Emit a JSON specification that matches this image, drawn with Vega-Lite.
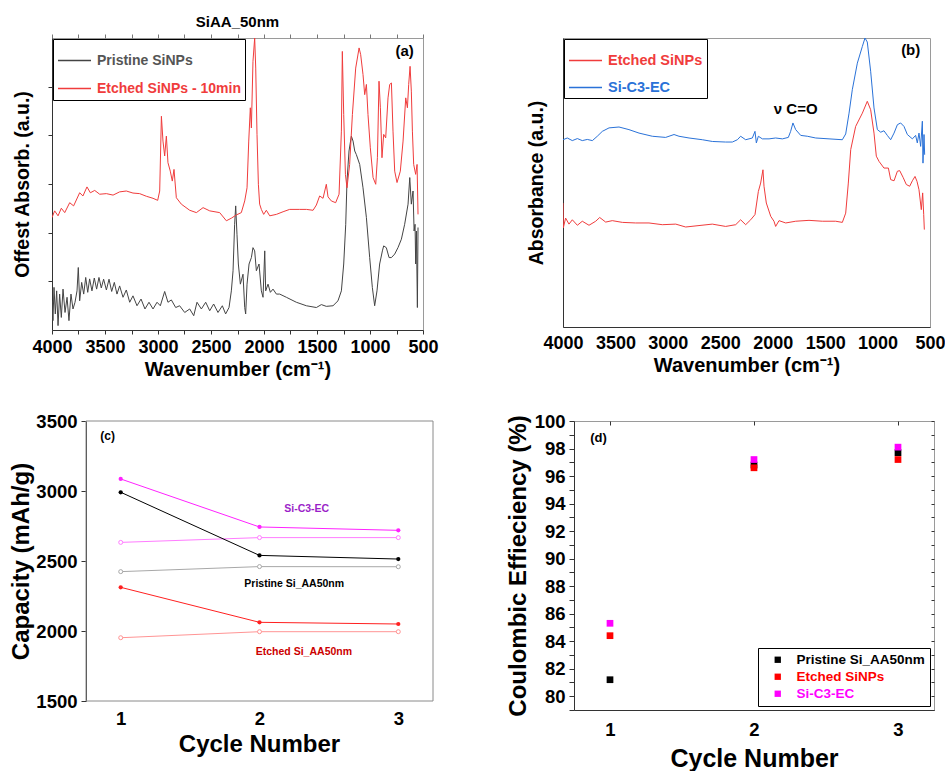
{
  "$schema": "https://vega.github.io/schema/vega-lite/v6.json",
  "background": "white",
  "padding": {"left": 9, "top": 14, "right": 0, "bottom": 0},
  "resolve": {"scale": {"color": "independent"}, "legend": {"color": "independent"}},
  "config": {
    "font": "Liberation Sans",
    "view": {"stroke": "#9a9a9a"},
    "title": {"font": "Liberation Sans", "fontWeight": "bold"},
    "axis": {"grid": false, "labelFont": "Liberation Sans", "titleFont": "Liberation Sans", "labelFontWeight": "bold", "titleFontWeight": "bold", "labelColor": "#000", "titleColor": "#000", "domainColor": "#333", "tickColor": "#333", "labelFlush": false, "labelOverlap": false},
    "legend": {"labelFont": "Liberation Sans", "labelFontWeight": "bold"},
    "text": {"font": "Liberation Sans", "fontWeight": "bold"}
  },
  "datasets": {
    "specA": [
      {"series":"Pristine SiNPs","wn":4000,"abs":10.0},{"series":"Pristine SiNPs","wn":3991,"abs":3.2},{"series":"Pristine SiNPs","wn":3981,"abs":14.6},{"series":"Pristine SiNPs","wn":3969,"abs":5.5},{"series":"Pristine SiNPs","wn":3956,"abs":13.4},{"series":"Pristine SiNPs","wn":3943,"abs":1.5},{"series":"Pristine SiNPs","wn":3928,"abs":12.3},{"series":"Pristine SiNPs","wn":3912,"abs":4.3},{"series":"Pristine SiNPs","wn":3896,"abs":14.0},{"series":"Pristine SiNPs","wn":3877,"abs":6.0},{"series":"Pristine SiNPs","wn":3858,"abs":11.2},{"series":"Pristine SiNPs","wn":3840,"abs":3.2},{"series":"Pristine SiNPs","wn":3821,"abs":12.3},{"series":"Pristine SiNPs","wn":3802,"abs":7.2},{"series":"Pristine SiNPs","wn":3783,"abs":9.5},{"series":"Pristine SiNPs","wn":3764,"abs":13.4},{"series":"Pristine SiNPs","wn":3752,"abs":21.4},{"series":"Pristine SiNPs","wn":3739,"abs":10.0},{"series":"Pristine SiNPs","wn":3720,"abs":16.3},{"series":"Pristine SiNPs","wn":3701,"abs":12.3},{"series":"Pristine SiNPs","wn":3682,"abs":18.0},{"series":"Pristine SiNPs","wn":3663,"abs":12.9},{"series":"Pristine SiNPs","wn":3645,"abs":17.5},{"series":"Pristine SiNPs","wn":3623,"abs":13.4},{"series":"Pristine SiNPs","wn":3601,"abs":17.8},{"series":"Pristine SiNPs","wn":3579,"abs":14.0},{"series":"Pristine SiNPs","wn":3557,"abs":18.0},{"series":"Pristine SiNPs","wn":3535,"abs":14.4},{"series":"Pristine SiNPs","wn":3513,"abs":17.4},{"series":"Pristine SiNPs","wn":3487,"abs":13.7},{"series":"Pristine SiNPs","wn":3462,"abs":17.4},{"series":"Pristine SiNPs","wn":3437,"abs":13.2},{"series":"Pristine SiNPs","wn":3412,"abs":16.3},{"series":"Pristine SiNPs","wn":3387,"abs":12.3},{"series":"Pristine SiNPs","wn":3362,"abs":15.1},{"series":"Pristine SiNPs","wn":3330,"abs":11.2},{"series":"Pristine SiNPs","wn":3299,"abs":13.7},{"series":"Pristine SiNPs","wn":3267,"abs":9.5},{"series":"Pristine SiNPs","wn":3236,"abs":11.7},{"series":"Pristine SiNPs","wn":3198,"abs":8.3},{"series":"Pristine SiNPs","wn":3160,"abs":10.6},{"series":"Pristine SiNPs","wn":3123,"abs":7.2},{"series":"Pristine SiNPs","wn":3085,"abs":9.5},{"series":"Pristine SiNPs","wn":3047,"abs":7.2},{"series":"Pristine SiNPs","wn":3009,"abs":9.5},{"series":"Pristine SiNPs","wn":2978,"abs":8.3},{"series":"Pristine SiNPs","wn":2937,"abs":13.2},{"series":"Pristine SiNPs","wn":2906,"abs":9.5},{"series":"Pristine SiNPs","wn":2874,"abs":10.3},{"series":"Pristine SiNPs","wn":2833,"abs":7.7},{"series":"Pristine SiNPs","wn":2796,"abs":8.3},{"series":"Pristine SiNPs","wn":2748,"abs":6.0},{"series":"Pristine SiNPs","wn":2701,"abs":7.2},{"series":"Pristine SiNPs","wn":2663,"abs":4.9},{"series":"Pristine SiNPs","wn":2632,"abs":9.5},{"series":"Pristine SiNPs","wn":2591,"abs":7.2},{"series":"Pristine SiNPs","wn":2550,"abs":9.5},{"series":"Pristine SiNPs","wn":2512,"abs":6.6},{"series":"Pristine SiNPs","wn":2475,"abs":8.9},{"series":"Pristine SiNPs","wn":2434,"abs":6.0},{"series":"Pristine SiNPs","wn":2393,"abs":8.3},{"series":"Pristine SiNPs","wn":2362,"abs":5.5},{"series":"Pristine SiNPs","wn":2330,"abs":7.7},{"series":"Pristine SiNPs","wn":2308,"abs":13.4},{"series":"Pristine SiNPs","wn":2292,"abs":20.3},{"series":"Pristine SiNPs","wn":2277,"abs":36.2},{"series":"Pristine SiNPs","wn":2267,"abs":42.5},{"series":"Pristine SiNPs","wn":2255,"abs":32.8},{"series":"Pristine SiNPs","wn":2242,"abs":22.6},{"series":"Pristine SiNPs","wn":2223,"abs":15.7},{"series":"Pristine SiNPs","wn":2198,"abs":19.1},{"series":"Pristine SiNPs","wn":2182,"abs":7.7},{"series":"Pristine SiNPs","wn":2173,"abs":5.5},{"series":"Pristine SiNPs","wn":2160,"abs":15.7},{"series":"Pristine SiNPs","wn":2141,"abs":22.6},{"series":"Pristine SiNPs","wn":2119,"abs":24.8},{"series":"Pristine SiNPs","wn":2104,"abs":28.2},{"series":"Pristine SiNPs","wn":2088,"abs":27.1},{"series":"Pristine SiNPs","wn":2072,"abs":20.3},{"series":"Pristine SiNPs","wn":2047,"abs":22.6},{"series":"Pristine SiNPs","wn":2025,"abs":13.4},{"series":"Pristine SiNPs","wn":2009,"abs":11.2},{"series":"Pristine SiNPs","wn":1993,"abs":27.1},{"series":"Pristine SiNPs","wn":1984,"abs":13.4},{"series":"Pristine SiNPs","wn":1962,"abs":15.7},{"series":"Pristine SiNPs","wn":1940,"abs":12.9},{"series":"Pristine SiNPs","wn":1915,"abs":14.0},{"series":"Pristine SiNPs","wn":1883,"abs":12.3},{"series":"Pristine SiNPs","wn":1852,"abs":12.3},{"series":"Pristine SiNPs","wn":1789,"abs":11.2},{"series":"Pristine SiNPs","wn":1695,"abs":9.5},{"series":"Pristine SiNPs","wn":1600,"abs":8.3},{"series":"Pristine SiNPs","wn":1506,"abs":7.7},{"series":"Pristine SiNPs","wn":1459,"abs":8.7},{"series":"Pristine SiNPs","wn":1412,"abs":8.1},{"series":"Pristine SiNPs","wn":1349,"abs":8.3},{"series":"Pristine SiNPs","wn":1302,"abs":10.0},{"series":"Pristine SiNPs","wn":1270,"abs":13.4},{"series":"Pristine SiNPs","wn":1248,"abs":22.6},{"series":"Pristine SiNPs","wn":1229,"abs":36.2},{"series":"Pristine SiNPs","wn":1217,"abs":51.0},{"series":"Pristine SiNPs","wn":1198,"abs":61.3},{"series":"Pristine SiNPs","wn":1176,"abs":66.4},{"series":"Pristine SiNPs","wn":1160,"abs":64.7},{"series":"Pristine SiNPs","wn":1144,"abs":61.3},{"series":"Pristine SiNPs","wn":1129,"abs":60.1},{"series":"Pristine SiNPs","wn":1097,"abs":56.7},{"series":"Pristine SiNPs","wn":1066,"abs":48.7},{"series":"Pristine SiNPs","wn":1034,"abs":38.5},{"series":"Pristine SiNPs","wn":1003,"abs":24.8},{"series":"Pristine SiNPs","wn":978,"abs":14.6},{"series":"Pristine SiNPs","wn":956,"abs":8.3},{"series":"Pristine SiNPs","wn":934,"abs":13.4},{"series":"Pristine SiNPs","wn":909,"abs":22.6},{"series":"Pristine SiNPs","wn":883,"abs":27.1},{"series":"Pristine SiNPs","wn":871,"abs":28.8},{"series":"Pristine SiNPs","wn":846,"abs":28.2},{"series":"Pristine SiNPs","wn":820,"abs":24.8},{"series":"Pristine SiNPs","wn":798,"abs":24.8},{"series":"Pristine SiNPs","wn":767,"abs":26.0},{"series":"Pristine SiNPs","wn":736,"abs":28.2},{"series":"Pristine SiNPs","wn":704,"abs":31.1},{"series":"Pristine SiNPs","wn":673,"abs":36.2},{"series":"Pristine SiNPs","wn":641,"abs":43.1},{"series":"Pristine SiNPs","wn":625,"abs":52.2},{"series":"Pristine SiNPs","wn":610,"abs":43.1},{"series":"Pristine SiNPs","wn":594,"abs":47.6},{"series":"Pristine SiNPs","wn":584,"abs":33.9},{"series":"Pristine SiNPs","wn":575,"abs":36.2},{"series":"Pristine SiNPs","wn":569,"abs":22.6},{"series":"Pristine SiNPs","wn":562,"abs":33.9},{"series":"Pristine SiNPs","wn":553,"abs":7.7},{"series":"Pristine SiNPs","wn":547,"abs":35.1},
      {"series":"Etched SiNPs - 10min","wn":4000,"abs":38.5},{"series":"Etched SiNPs - 10min","wn":3975,"abs":40.8},{"series":"Etched SiNPs - 10min","wn":3943,"abs":39.1},{"series":"Etched SiNPs - 10min","wn":3912,"abs":41.7},{"series":"Etched SiNPs - 10min","wn":3880,"abs":40.2},{"series":"Etched SiNPs - 10min","wn":3833,"abs":43.6},{"series":"Etched SiNPs - 10min","wn":3796,"abs":42.5},{"series":"Etched SiNPs - 10min","wn":3739,"abs":47.0},{"series":"Etched SiNPs - 10min","wn":3708,"abs":45.9},{"series":"Etched SiNPs - 10min","wn":3670,"abs":49.0},{"series":"Etched SiNPs - 10min","wn":3638,"abs":47.0},{"series":"Etched SiNPs - 10min","wn":3597,"abs":47.8},{"series":"Etched SiNPs - 10min","wn":3550,"abs":46.5},{"series":"Etched SiNPs - 10min","wn":3487,"abs":46.7},{"series":"Etched SiNPs - 10min","wn":3424,"abs":46.2},{"series":"Etched SiNPs - 10min","wn":3362,"abs":47.3},{"series":"Etched SiNPs - 10min","wn":3299,"abs":47.6},{"series":"Etched SiNPs - 10min","wn":3236,"abs":46.9},{"series":"Etched SiNPs - 10min","wn":3173,"abs":46.7},{"series":"Etched SiNPs - 10min","wn":3110,"abs":45.8},{"series":"Etched SiNPs - 10min","wn":3047,"abs":45.1},{"series":"Etched SiNPs - 10min","wn":3003,"abs":44.4},{"series":"Etched SiNPs - 10min","wn":2984,"abs":47.6},{"series":"Etched SiNPs - 10min","wn":2968,"abs":73.2},{"series":"Etched SiNPs - 10min","wn":2953,"abs":64.7},{"series":"Etched SiNPs - 10min","wn":2937,"abs":59.6},{"series":"Etched SiNPs - 10min","wn":2921,"abs":66.4},{"series":"Etched SiNPs - 10min","wn":2906,"abs":57.3},{"series":"Etched SiNPs - 10min","wn":2884,"abs":54.4},{"series":"Etched SiNPs - 10min","wn":2865,"abs":51.0},{"series":"Etched SiNPs - 10min","wn":2849,"abs":55.0},{"series":"Etched SiNPs - 10min","wn":2827,"abs":45.3},{"series":"Etched SiNPs - 10min","wn":2780,"abs":43.1},{"series":"Etched SiNPs - 10min","wn":2701,"abs":41.0},{"series":"Etched SiNPs - 10min","wn":2638,"abs":40.2},{"series":"Etched SiNPs - 10min","wn":2575,"abs":41.9},{"series":"Etched SiNPs - 10min","wn":2512,"abs":40.8},{"series":"Etched SiNPs - 10min","wn":2418,"abs":40.2},{"series":"Etched SiNPs - 10min","wn":2355,"abs":37.4},{"series":"Etched SiNPs - 10min","wn":2308,"abs":38.3},{"series":"Etched SiNPs - 10min","wn":2261,"abs":39.4},{"series":"Etched SiNPs - 10min","wn":2214,"abs":40.2},{"series":"Etched SiNPs - 10min","wn":2182,"abs":44.2},{"series":"Etched SiNPs - 10min","wn":2160,"abs":48.7},{"series":"Etched SiNPs - 10min","wn":2144,"abs":64.7},{"series":"Etched SiNPs - 10min","wn":2129,"abs":76.1},{"series":"Etched SiNPs - 10min","wn":2119,"abs":69.2},{"series":"Etched SiNPs - 10min","wn":2104,"abs":92.0},{"series":"Etched SiNPs - 10min","wn":2088,"abs":100},{"series":"Etched SiNPs - 10min","wn":2078,"abs":89.7},{"series":"Etched SiNPs - 10min","wn":2066,"abs":67.0},{"series":"Etched SiNPs - 10min","wn":2053,"abs":49.9},{"series":"Etched SiNPs - 10min","wn":2041,"abs":43.1},{"series":"Etched SiNPs - 10min","wn":2025,"abs":41.3},{"series":"Etched SiNPs - 10min","wn":2003,"abs":39.6},{"series":"Etched SiNPs - 10min","wn":1978,"abs":41.0},{"series":"Etched SiNPs - 10min","wn":1946,"abs":39.1},{"series":"Etched SiNPs - 10min","wn":1883,"abs":39.6},{"series":"Etched SiNPs - 10min","wn":1820,"abs":40.5},{"series":"Etched SiNPs - 10min","wn":1758,"abs":41.3},{"series":"Etched SiNPs - 10min","wn":1663,"abs":41.3},{"series":"Etched SiNPs - 10min","wn":1600,"abs":41.3},{"series":"Etched SiNPs - 10min","wn":1537,"abs":41.0},{"series":"Etched SiNPs - 10min","wn":1506,"abs":42.8},{"series":"Etched SiNPs - 10min","wn":1475,"abs":45.9},{"series":"Etched SiNPs - 10min","wn":1443,"abs":45.1},{"series":"Etched SiNPs - 10min","wn":1412,"abs":49.9},{"series":"Etched SiNPs - 10min","wn":1396,"abs":45.6},{"series":"Etched SiNPs - 10min","wn":1365,"abs":44.2},{"series":"Etched SiNPs - 10min","wn":1324,"abs":43.6},{"series":"Etched SiNPs - 10min","wn":1292,"abs":46.5},{"series":"Etched SiNPs - 10min","wn":1270,"abs":68.1},{"series":"Etched SiNPs - 10min","wn":1261,"abs":95.4},{"series":"Etched SiNPs - 10min","wn":1248,"abs":73.8},{"series":"Etched SiNPs - 10min","wn":1232,"abs":53.3},{"series":"Etched SiNPs - 10min","wn":1217,"abs":48.7},{"series":"Etched SiNPs - 10min","wn":1192,"abs":56.7},{"series":"Etched SiNPs - 10min","wn":1166,"abs":73.8},{"series":"Etched SiNPs - 10min","wn":1135,"abs":89.7},{"series":"Etched SiNPs - 10min","wn":1103,"abs":96.6},{"series":"Etched SiNPs - 10min","wn":1088,"abs":94.3},{"series":"Etched SiNPs - 10min","wn":1066,"abs":87.5},{"series":"Etched SiNPs - 10min","wn":1050,"abs":80.6},{"series":"Etched SiNPs - 10min","wn":1034,"abs":84.1},{"series":"Etched SiNPs - 10min","wn":1019,"abs":73.8},{"series":"Etched SiNPs - 10min","wn":997,"abs":62.4},{"series":"Etched SiNPs - 10min","wn":971,"abs":52.2},{"series":"Etched SiNPs - 10min","wn":946,"abs":49.9},{"series":"Etched SiNPs - 10min","wn":930,"abs":59.0},{"series":"Etched SiNPs - 10min","wn":915,"abs":85.2},{"series":"Etched SiNPs - 10min","wn":902,"abs":76.1},{"series":"Etched SiNPs - 10min","wn":887,"abs":59.0},{"series":"Etched SiNPs - 10min","wn":871,"abs":67.0},{"series":"Etched SiNPs - 10min","wn":852,"abs":65.8},{"series":"Etched SiNPs - 10min","wn":830,"abs":79.5},{"series":"Etched SiNPs - 10min","wn":814,"abs":84.1},{"series":"Etched SiNPs - 10min","wn":798,"abs":84.6},{"series":"Etched SiNPs - 10min","wn":783,"abs":68.1},{"series":"Etched SiNPs - 10min","wn":767,"abs":54.4},{"series":"Etched SiNPs - 10min","wn":745,"abs":50.5},{"series":"Etched SiNPs - 10min","wn":714,"abs":54.4},{"series":"Etched SiNPs - 10min","wn":688,"abs":64.7},{"series":"Etched SiNPs - 10min","wn":663,"abs":79.5},{"series":"Etched SiNPs - 10min","wn":647,"abs":76.1},{"series":"Etched SiNPs - 10min","wn":635,"abs":84.1},{"series":"Etched SiNPs - 10min","wn":622,"abs":90.3},{"series":"Etched SiNPs - 10min","wn":610,"abs":81.8},{"series":"Etched SiNPs - 10min","wn":600,"abs":68.1},{"series":"Etched SiNPs - 10min","wn":588,"abs":56.7},{"series":"Etched SiNPs - 10min","wn":569,"abs":53.3},{"series":"Etched SiNPs - 10min","wn":556,"abs":56.7},{"series":"Etched SiNPs - 10min","wn":547,"abs":39.6}
    ],
    "specB": [
      {"series":"Etched SiNPs","wn":4000,"abs":42.9},{"series":"Etched SiNPs","wn":3997,"abs":34.3},{"series":"Etched SiNPs","wn":3975,"abs":37.7},{"series":"Etched SiNPs","wn":3943,"abs":35.6},{"series":"Etched SiNPs","wn":3911,"abs":37.1},{"series":"Etched SiNPs","wn":3863,"abs":35.2},{"series":"Etched SiNPs","wn":3816,"abs":36.6},{"series":"Etched SiNPs","wn":3752,"abs":35.2},{"series":"Etched SiNPs","wn":3688,"abs":36.6},{"series":"Etched SiNPs","wn":3650,"abs":37.9},{"series":"Etched SiNPs","wn":3593,"abs":36.3},{"series":"Etched SiNPs","wn":3530,"abs":36.8},{"series":"Etched SiNPs","wn":3434,"abs":36.2},{"series":"Etched SiNPs","wn":3307,"abs":36.0},{"series":"Etched SiNPs","wn":3180,"abs":36.0},{"series":"Etched SiNPs","wn":3053,"abs":35.4},{"series":"Etched SiNPs","wn":2925,"abs":35.6},{"series":"Etched SiNPs","wn":2830,"abs":34.6},{"series":"Etched SiNPs","wn":2703,"abs":35.1},{"series":"Etched SiNPs","wn":2576,"abs":35.6},{"series":"Etched SiNPs","wn":2449,"abs":34.8},{"series":"Etched SiNPs","wn":2353,"abs":35.4},{"series":"Etched SiNPs","wn":2306,"abs":37.1},{"series":"Etched SiNPs","wn":2258,"abs":35.4},{"series":"Etched SiNPs","wn":2210,"abs":37.1},{"series":"Etched SiNPs","wn":2169,"abs":38.9},{"series":"Etched SiNPs","wn":2137,"abs":46.9},{"series":"Etched SiNPs","wn":2115,"abs":49.8},{"series":"Etched SiNPs","wn":2093,"abs":54.4},{"series":"Etched SiNPs","wn":2083,"abs":48.7},{"series":"Etched SiNPs","wn":2061,"abs":42.9},{"series":"Etched SiNPs","wn":2019,"abs":38.3},{"series":"Etched SiNPs","wn":1988,"abs":36.6},{"series":"Etched SiNPs","wn":1972,"abs":34.8},{"series":"Etched SiNPs","wn":1940,"abs":36.8},{"series":"Etched SiNPs","wn":1876,"abs":36.0},{"series":"Etched SiNPs","wn":1781,"abs":36.6},{"series":"Etched SiNPs","wn":1654,"abs":36.9},{"series":"Etched SiNPs","wn":1527,"abs":36.6},{"series":"Etched SiNPs","wn":1400,"abs":36.6},{"series":"Etched SiNPs","wn":1336,"abs":36.2},{"series":"Etched SiNPs","wn":1304,"abs":39.4},{"series":"Etched SiNPs","wn":1279,"abs":49.8},{"series":"Etched SiNPs","wn":1256,"abs":61.4},{"series":"Etched SiNPs","wn":1209,"abs":69.4},{"series":"Etched SiNPs","wn":1145,"abs":74.0},{"series":"Etched SiNPs","wn":1098,"abs":78.1},{"series":"Etched SiNPs","wn":1066,"abs":75.2},{"series":"Etched SiNPs","wn":1034,"abs":67.1},{"series":"Etched SiNPs","wn":1012,"abs":59.1},{"series":"Etched SiNPs","wn":986,"abs":57.3},{"series":"Etched SiNPs","wn":939,"abs":55.0},{"series":"Etched SiNPs","wn":897,"abs":55.0},{"series":"Etched SiNPs","wn":875,"abs":51.0},{"series":"Etched SiNPs","wn":843,"abs":50.6},{"series":"Etched SiNPs","wn":811,"abs":53.9},{"series":"Etched SiNPs","wn":789,"abs":54.1},{"series":"Etched SiNPs","wn":757,"abs":51.8},{"series":"Etched SiNPs","wn":726,"abs":49.3},{"series":"Etched SiNPs","wn":694,"abs":48.7},{"series":"Etched SiNPs","wn":668,"abs":50.6},{"series":"Etched SiNPs","wn":643,"abs":52.1},{"series":"Etched SiNPs","wn":624,"abs":50.4},{"series":"Etched SiNPs","wn":605,"abs":47.5},{"series":"Etched SiNPs","wn":583,"abs":40.6},{"series":"Etched SiNPs","wn":570,"abs":46.4},{"series":"Etched SiNPs","wn":560,"abs":38.9},{"series":"Etched SiNPs","wn":554,"abs":33.7},
      {"series":"Si-C3-EC","wn":4000,"abs":64.8},{"series":"Si-C3-EC","wn":3959,"abs":65.4},{"series":"Si-C3-EC","wn":3911,"abs":64.5},{"series":"Si-C3-EC","wn":3863,"abs":65.2},{"series":"Si-C3-EC","wn":3816,"abs":64.5},{"series":"Si-C3-EC","wn":3768,"abs":64.9},{"series":"Si-C3-EC","wn":3720,"abs":64.5},{"series":"Si-C3-EC","wn":3673,"abs":66.0},{"series":"Si-C3-EC","wn":3625,"abs":67.7},{"series":"Si-C3-EC","wn":3561,"abs":68.9},{"series":"Si-C3-EC","wn":3466,"abs":69.2},{"series":"Si-C3-EC","wn":3371,"abs":68.3},{"series":"Si-C3-EC","wn":3275,"abs":67.1},{"series":"Si-C3-EC","wn":3148,"abs":66.0},{"series":"Si-C3-EC","wn":3021,"abs":65.6},{"series":"Si-C3-EC","wn":2941,"abs":66.6},{"series":"Si-C3-EC","wn":2894,"abs":66.0},{"series":"Si-C3-EC","wn":2798,"abs":65.4},{"series":"Si-C3-EC","wn":2671,"abs":64.8},{"series":"Si-C3-EC","wn":2576,"abs":64.2},{"series":"Si-C3-EC","wn":2449,"abs":64.0},{"series":"Si-C3-EC","wn":2385,"abs":64.0},{"series":"Si-C3-EC","wn":2337,"abs":64.8},{"series":"Si-C3-EC","wn":2306,"abs":66.0},{"series":"Si-C3-EC","wn":2258,"abs":64.8},{"series":"Si-C3-EC","wn":2194,"abs":65.4},{"series":"Si-C3-EC","wn":2169,"abs":67.7},{"series":"Si-C3-EC","wn":2156,"abs":63.7},{"series":"Si-C3-EC","wn":2137,"abs":66.0},{"series":"Si-C3-EC","wn":2099,"abs":65.1},{"series":"Si-C3-EC","wn":2035,"abs":65.1},{"series":"Si-C3-EC","wn":1972,"abs":65.4},{"series":"Si-C3-EC","wn":1908,"abs":65.1},{"series":"Si-C3-EC","wn":1851,"abs":65.6},{"series":"Si-C3-EC","wn":1829,"abs":67.7},{"series":"Si-C3-EC","wn":1807,"abs":70.6},{"series":"Si-C3-EC","wn":1781,"abs":68.3},{"series":"Si-C3-EC","wn":1733,"abs":66.3},{"series":"Si-C3-EC","wn":1670,"abs":66.0},{"series":"Si-C3-EC","wn":1590,"abs":65.4},{"series":"Si-C3-EC","wn":1463,"abs":65.1},{"series":"Si-C3-EC","wn":1336,"abs":64.8},{"series":"Si-C3-EC","wn":1304,"abs":66.8},{"series":"Si-C3-EC","wn":1272,"abs":74.0},{"series":"Si-C3-EC","wn":1241,"abs":82.1},{"series":"Si-C3-EC","wn":1193,"abs":91.3},{"series":"Si-C3-EC","wn":1145,"abs":97.1},{"series":"Si-C3-EC","wn":1120,"abs":100},{"series":"Si-C3-EC","wn":1098,"abs":98.6},{"series":"Si-C3-EC","wn":1066,"abs":88.5},{"series":"Si-C3-EC","wn":1034,"abs":75.8},{"series":"Si-C3-EC","wn":1002,"abs":68.3},{"series":"Si-C3-EC","wn":970,"abs":67.4},{"series":"Si-C3-EC","wn":939,"abs":67.9},{"series":"Si-C3-EC","wn":907,"abs":66.3},{"series":"Si-C3-EC","wn":875,"abs":64.8},{"series":"Si-C3-EC","wn":843,"abs":67.1},{"series":"Si-C3-EC","wn":811,"abs":70.0},{"series":"Si-C3-EC","wn":780,"abs":70.6},{"series":"Si-C3-EC","wn":748,"abs":69.4},{"series":"Si-C3-EC","wn":716,"abs":66.6},{"series":"Si-C3-EC","wn":668,"abs":65.1},{"series":"Si-C3-EC","wn":637,"abs":66.3},{"series":"Si-C3-EC","wn":621,"abs":63.7},{"series":"Si-C3-EC","wn":605,"abs":67.1},{"series":"Si-C3-EC","wn":589,"abs":62.5},{"series":"Si-C3-EC","wn":573,"abs":71.2},{"series":"Si-C3-EC","wn":567,"abs":56.7},{"series":"Si-C3-EC","wn":557,"abs":66.6},{"series":"Si-C3-EC","wn":551,"abs":59.6}
    ],
    "cap": [
      {"cycle":1,"capacity":3086,"series":"Si-C3-EC discharge","kind":"discharge"},{"cycle":2,"capacity":2743,"series":"Si-C3-EC discharge","kind":"discharge"},{"cycle":3,"capacity":2719,"series":"Si-C3-EC discharge","kind":"discharge"},
      {"cycle":1,"capacity":2633,"series":"Si-C3-EC charge","kind":"charge"},{"cycle":2,"capacity":2667,"series":"Si-C3-EC charge","kind":"charge"},{"cycle":3,"capacity":2667,"series":"Si-C3-EC charge","kind":"charge"},
      {"cycle":1,"capacity":2991,"series":"Pristine discharge","kind":"discharge"},{"cycle":2,"capacity":2540,"series":"Pristine discharge","kind":"discharge"},{"cycle":3,"capacity":2514,"series":"Pristine discharge","kind":"discharge"},
      {"cycle":1,"capacity":2424,"series":"Pristine charge","kind":"charge"},{"cycle":2,"capacity":2460,"series":"Pristine charge","kind":"charge"},{"cycle":3,"capacity":2459,"series":"Pristine charge","kind":"charge"},
      {"cycle":1,"capacity":2312,"series":"Etched discharge","kind":"discharge"},{"cycle":2,"capacity":2062,"series":"Etched discharge","kind":"discharge"},{"cycle":3,"capacity":2050,"series":"Etched discharge","kind":"discharge"},
      {"cycle":1,"capacity":1952,"series":"Etched charge","kind":"charge"},{"cycle":2,"capacity":1995,"series":"Etched charge","kind":"charge"},{"cycle":3,"capacity":1995,"series":"Etched charge","kind":"charge"}
    ],
    "ce": [
      {"cycle":1,"ce":81.2,"series":"Pristine Si_AA50nm"},{"cycle":2,"ce":96.8,"series":"Pristine Si_AA50nm"},{"cycle":3,"ce":97.7,"series":"Pristine Si_AA50nm"},
      {"cycle":1,"ce":84.4,"series":"Etched SiNPs"},{"cycle":2,"ce":96.6,"series":"Etched SiNPs"},{"cycle":3,"ce":97.2,"series":"Etched SiNPs"},
      {"cycle":1,"ce":85.3,"series":"Si-C3-EC"},{"cycle":2,"ce":97.2,"series":"Si-C3-EC"},{"cycle":3,"ce":98.1,"series":"Si-C3-EC"}
    ]
  },
  "vconcat": [
    {
      "resolve": {"scale": {"color": "independent"}, "legend": {"color": "independent"}},
      "hconcat": [
        {
          "width": 371, "height": 292,
          "title": {"text": "SiAA_50nm", "fontSize": 15, "frame": "group", "offset": 4},
          "resolve": {"axis": {"x": "independent"}},
          "layer": [
            {
              "data": {"name": "specA"},
              "mark": {"type": "line", "strokeWidth": 1, "clip": true},
              "encoding": {
                "x": {"field": "wn", "type": "quantitative", "scale": {"domain": [500, 4000], "reverse": true, "nice": false, "zero": false},
                  "axis": {"orient": "bottom", "title": "Wavenumber (cm⁻¹)", "values": [500,750,1000,1250,1500,1750,2000,2250,2500,2750,3000,3250,3500,3750,4000], "labelExpr": "datum.value % 500 === 0 ? datum.label : ''", "format": "d", "labelFontSize": 18, "titleFontSize": 20, "tickSize": 4, "labelPadding": 4, "titlePadding": 3, "labelOverlap": false}},
                "y": {"field": "abs", "type": "quantitative", "scale": {"domain": [0, 100], "nice": false},
                  "axis": {"title": "Offest Absorb. (a.u.)", "labels": false, "values": [16.7, 33.3, 50, 66.7, 83.3], "tickSize": 4, "titleFontSize": 19.5, "titlePadding": 15}},
                "color": {"field": "series", "type": "nominal",
                  "scale": {"domain": ["Pristine SiNPs", "Etched SiNPs - 10min"], "range": ["#444444", "#f03c3c"]},
                  "legend": {"title": null, "orient": "top-left", "offset": 1, "strokeColor": "#000", "fillColor": "white", "padding": 4, "labelFontSize": 14, "symbolType": "stroke", "symbolSize": 1089, "symbolStrokeWidth": 1.5, "labelOffset": 5, "rowPadding": 3,
                    "encode": {"labels": {"update": {"fill": {"signal": "datum.label === 'Pristine SiNPs' ? '#555555' : '#f03c3c'"}}}}}
                }
              }
            },
            {
              "data": {"values": [{"label": "(a)", "wn": 673, "abs": 95.4}]},
              "mark": {"type": "text", "fontSize": 15, "color": "#000"},
              "encoding": {
                "x": {"field": "wn", "type": "quantitative", "axis": {"orient": "top", "title": null, "labels": false, "domain": false, "values": [500,750,1000,1250,1500,1750,2000,2250,2500,2750,3000,3250,3500,3750,4000], "tickSize": 4, "tickColor": "#777"}},
                "y": {"field": "abs", "type": "quantitative"},
                "text": {"field": "label"}
              }
            }
          ]
        },
        {
          "width": 367, "height": 289,
          "layer": [
            {
              "data": {"name": "specB"},
              "mark": {"type": "line", "strokeWidth": 1, "clip": true},
              "encoding": {
                "x": {"field": "wn", "type": "quantitative", "scale": {"domain": [500, 4000], "reverse": true, "nice": false, "zero": false},
                  "axis": {"title": "Wavenumber (cm⁻¹)", "values": [500,1000,1500,2000,2500,3000,3500,4000], "format": "d", "labelFontSize": 18, "titleFontSize": 20, "ticks": false, "labelPadding": 7, "titlePadding": 3, "labelOverlap": false}},
                "y": {"field": "abs", "type": "quantitative", "scale": {"domain": [0, 100], "nice": false},
                  "axis": {"title": "Absorbance (a.u.)", "labels": false, "ticks": false, "titleFontSize": 19.5, "titlePadding": 17}},
                "color": {"field": "series", "type": "nominal",
                  "scale": {"domain": ["Etched SiNPs", "Si-C3-EC"], "range": ["#f03c3c", "#2a72d8"]},
                  "legend": {"title": null, "orient": "top-left", "offset": 1, "strokeColor": "#000", "fillColor": "white", "padding": 4, "labelFontSize": 14.5, "symbolType": "stroke", "symbolSize": 1089, "symbolStrokeWidth": 1.5, "labelOffset": 5, "rowPadding": 3,
                    "encode": {"labels": {"update": {"fill": {"signal": "datum.label === 'Etched SiNPs' ? '#f03c3c' : '#2a72d8'"}}}}}
                }
              }
            },
            {
              "data": {"values": [{"label": "(b)", "wn": 684, "abs": 96}, {"label": "ν C=O", "wn": 1781, "abs": 75.4}]},
              "mark": {"type": "text", "fontSize": 15, "color": "#000"},
              "encoding": {"x": {"field": "wn", "type": "quantitative"}, "y": {"field": "abs", "type": "quantitative"}, "text": {"field": "label"}}
            }
          ]
        }
      ],
      "spacing": 86
    },
    {
      "resolve": {"scale": {"color": "independent"}, "legend": {"color": "independent"}},
      "hconcat": [
        {
          "width": 381, "height": 280,
          "view": {"stroke": null},
          "layer": [
            {
              "data": {"values": [{}]},
              "mark": {"type": "rect", "fill": "transparent", "stroke": "#8a8a8a", "strokeWidth": 1},
              "encoding": {
                "x": {"datum": 0.75, "type": "quantitative", "scale": {"domain": [0.505, 3.25], "nice": false, "zero": false},
                  "axis": {"title": "Cycle Number", "values": [1, 2, 3], "format": "d", "domain": false, "labelFontSize": 18.5, "titleFontSize": 24, "ticks": false, "labelPadding": 8, "titlePadding": 5, "titleX": 207}},
                "x2": {"datum": 3.25},
                "y": {"datum": 1500, "type": "quantitative", "scale": {"domain": [1500, 3500], "nice": false, "zero": false},
                  "axis": {"title": "Capacity (mAh/g)", "offset": -34, "values": [1500,1750,2000,2250,2500,2750,3000,3250,3500], "labelExpr": "datum.value % 500 === 0 ? datum.label : ''", "format": "d", "labelFontSize": 18.5, "titleFontSize": 24, "tickSize": 5, "labelPadding": 4, "titlePadding": 2, "labelOverlap": false}},
                "y2": {"datum": 3500}
              }
            },
            {
              "data": {"name": "cap"},
              "mark": {"type": "line", "strokeWidth": 1},
              "encoding": {
                "x": {"field": "cycle", "type": "quantitative"},
                "y": {"field": "capacity", "type": "quantitative"},
                "color": {"field": "series", "type": "nominal", "legend": null,
                  "scale": {"domain": ["Si-C3-EC discharge", "Si-C3-EC charge", "Pristine discharge", "Pristine charge", "Etched discharge", "Etched charge"], "range": ["#ff22ff", "#ff7cff", "#000000", "#a8a8a8", "#ff2020", "#ff9494"]}}
              }
            },
            {
              "data": {"name": "cap"},
              "transform": [{"filter": "datum.kind === 'discharge'"}],
              "mark": {"type": "point", "shape": "circle", "filled": true, "size": 18, "opacity": 1},
              "encoding": {"x": {"field": "cycle", "type": "quantitative"}, "y": {"field": "capacity", "type": "quantitative"}, "color": {"field": "series", "type": "nominal", "legend": null}}
            },
            {
              "data": {"name": "cap"},
              "transform": [{"filter": "datum.kind === 'charge'"}],
              "mark": {"type": "point", "shape": "circle", "filled": false, "size": 16, "strokeWidth": 1, "fill": "white", "opacity": 1},
              "encoding": {"x": {"field": "cycle", "type": "quantitative"}, "y": {"field": "capacity", "type": "quantitative"}, "color": {"field": "series", "type": "nominal", "legend": null}}
            },
            {
              "data": {"values": [{"label": "Si-C3-EC", "cycle": 2.34, "capacity": 2871}]},
              "mark": {"type": "text", "fontSize": 10.5, "color": "#9b1fc8"},
              "encoding": {"x": {"field": "cycle", "type": "quantitative"}, "y": {"field": "capacity", "type": "quantitative"}, "text": {"field": "label"}}
            },
            {
              "data": {"values": [{"label": "Pristine Si_AA50nm", "cycle": 2.25, "capacity": 2337}]},
              "mark": {"type": "text", "fontSize": 10.5, "color": "#000000"},
              "encoding": {"x": {"field": "cycle", "type": "quantitative"}, "y": {"field": "capacity", "type": "quantitative"}, "text": {"field": "label"}}
            },
            {
              "data": {"values": [{"label": "Etched Si_AA50nm", "cycle": 2.32, "capacity": 1850}]},
              "mark": {"type": "text", "fontSize": 10.5, "color": "#cc0000"},
              "encoding": {"x": {"field": "cycle", "type": "quantitative"}, "y": {"field": "capacity", "type": "quantitative"}, "text": {"field": "label"}}
            },
            {
              "data": {"values": [{"label": "(c)", "cycle": 0.906, "capacity": 3393}]},
              "mark": {"type": "text", "fontSize": 12, "color": "#000000"},
              "encoding": {"x": {"field": "cycle", "type": "quantitative"}, "y": {"field": "capacity", "type": "quantitative"}, "text": {"field": "label"}}
            }
          ]
        },
        {
          "width": 360, "height": 289,
          "resolve": {"axis": {"x": "independent", "y": "independent"}},
          "layer": [
            {
              "data": {"name": "ce"},
              "mark": {"type": "square", "size": 45, "opacity": 1},
              "encoding": {
                "x": {"field": "cycle", "type": "quantitative", "scale": {"domain": [0.75, 3.25], "nice": false, "zero": false},
                  "axis": {"orient": "bottom", "title": "Cycle Number", "values": [1, 2, 3], "format": "d", "labelFontSize": 18.5, "titleFontSize": 25, "ticks": false, "labelPadding": 10, "titlePadding": 8}},
                "y": {"field": "ce", "type": "quantitative", "scale": {"domain": [79, 100], "nice": false, "zero": false},
                  "axis": {"orient": "left", "title": "Coulombic  Effieciency (%)", "values": [79,80,81,82,83,84,85,86,87,88,89,90,91,92,93,94,95,96,97,98,99,100], "labelExpr": "datum.value % 2 === 0 ? datum.label : ''", "format": "d", "labelFontSize": 18.5, "titleFontSize": 24, "tickSize": 5, "labelPadding": 4, "titlePadding": 4, "labelOverlap": false}},
                "color": {"field": "series", "type": "nominal",
                  "scale": {"domain": ["Pristine Si_AA50nm", "Etched SiNPs", "Si-C3-EC"], "range": ["#000000", "#ff0000", "#ff00ff"]},
                  "legend": {"title": null, "orient": "bottom-right", "offset": 4, "strokeColor": "#000", "fillColor": "white", "padding": 5, "labelFontSize": 13.5, "symbolType": "square", "symbolSize": 40, "symbolOpacity": 1, "symbolOffset": 8, "labelOffset": 12, "rowPadding": 2,
                    "encode": {"labels": {"update": {"fill": {"signal": "datum.label === 'Pristine Si_AA50nm' ? '#000000' : datum.label === 'Etched SiNPs' ? '#ff0000' : '#ff00ff'"}}}}}
                }
              }
            },
            {
              "data": {"values": [{"label": "(d)", "cycle": 0.92, "ce": 98.8}]},
              "mark": {"type": "text", "fontSize": 13, "color": "#000000"},
              "encoding": {
                "x": {"field": "cycle", "type": "quantitative", "axis": {"orient": "top", "title": null, "labels": false, "domain": false, "values": [1, 2, 3], "tickSize": -4}},
                "y": {"field": "ce", "type": "quantitative", "axis": {"orient": "right", "title": null, "labels": false, "domain": false, "values": [79,80,81,82,83,84,85,86,87,88,89,90,91,92,93,94,95,96,97,98,99,100], "tickSize": -3}},
                "text": {"field": "label"}
              }
            }
          ]
        }
      ],
      "spacing": 71
    }
  ],
  "spacing": 30
}
